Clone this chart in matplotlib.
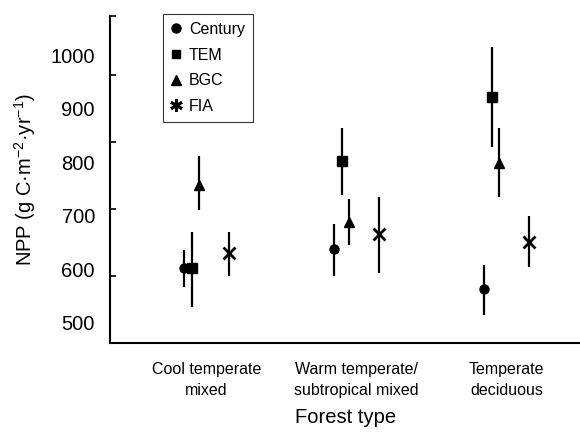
import matplotlib
matplotlib.use("Agg")
import matplotlib.pyplot as plt
from matplotlib.lines import Line2D
import numpy as np

plt.rcParams['font.family'] = ['Liberation Sans', 'DejaVu Sans']
plt.rcParams['mathtext.default'] = 'regular'

# forest types and models
forest_types = ["Cool temperate\nmixed", "Warm temperate/\nsubtropical mixed", "Temperate\ndeciduous"]
models = ["Century", "TEM", "BGC", "FIA"]

# NPP estimates (g C m-2 yr-1), one list per model, ordered by forest type
npp = {
    "Century": [603, 638, 563],
    "TEM":     [603, 802, 922],
    "BGC":     [757, 688, 798],
    "FIA":     [631, 666, 651],
}
# lower / upper ends of the vertical bars
npp_low = {
    "Century": [567, 588, 515],
    "TEM":     [530, 739, 828],
    "BGC":     [711, 645, 735],
    "FIA":     [588, 593, 604],
}
npp_high = {
    "Century": [636, 685, 608],
    "TEM":     [670, 864, 1015],
    "BGC":     [811, 731, 864],
    "FIA":     [670, 735, 700],
}

ytick_labels = [500, 600, 700, 800, 900, 1000]
ytick_marks = [587.7, 712.7, 837.7, 962.7]

# styling
offsets = {"Century": -0.16, "TEM": -0.11, "BGC": -0.06, "FIA": 0.14}
markers = {"Century": "o", "TEM": "s", "BGC": "^", "FIA": "x"}
msizes = {"Century": 6.5, "TEM": 7, "BGC": 7, "FIA": 9}

fig = plt.figure(figsize=(5.8, 4.33), dpi=100)
ax = fig.add_axes([0.19, 0.208, 0.81, 0.755])

x = np.arange(1, len(forest_types) + 1)
for m in models:
    vals = np.array(npp[m])
    lo = vals - np.array(npp_low[m])
    hi = np.array(npp_high[m]) - vals
    ax.errorbar(x + offsets[m], vals, yerr=[lo, hi], fmt=markers[m], color='black',
                ms=msizes[m], mew=2 if m == "FIA" else 1, elinewidth=1.6, capsize=0)

ax.set_xlim(0.347, 3.48)
ax.set_ylim(462.7, 1072.8)

for s in ["top", "right"]:
    ax.spines[s].set_visible(False)
ax.spines["left"].set_linewidth(1.5)
ax.spines["bottom"].set_linewidth(1.5)

# labels sit independently of the inward tick marks
ax.set_yticks(ytick_labels)
ax.set_yticklabels([str(v) for v in ytick_labels], fontsize=14.5)
ax.tick_params(axis='y', which='major', length=0, pad=11)
ax.set_yticks(ytick_marks + [1072.8], minor=True)
ax.tick_params(axis='y', which='minor', direction='in', length=4, width=1.2)

ax.set_xticks(x - 0.01)
ax.set_xticklabels(forest_types, fontsize=11.5, linespacing=1.45)
ax.tick_params(axis='x', length=0, pad=14)

ax.set_ylabel("NPP (g C·m$^{-2}$·yr$^{-1}$)", fontsize=14.5, labelpad=9)
ax.set_xlabel("Forest type", fontsize=14.5, labelpad=7)

handles = [
    Line2D([], [], marker="o", ls='none', color='black', ms=6.5),
    Line2D([], [], marker="s", ls='none', color='black', ms=6),
    Line2D([], [], marker="^", ls='none', color='black', ms=7),
    Line2D([], [], marker=(6, 2, 0), ls='none', color='black', ms=9, mew=2),
]
leg = ax.legend(handles, models, loc='upper left', bbox_to_anchor=(0.113, 1.006),
                borderaxespad=0, fontsize=11.5, frameon=True, fancybox=False,
                handlelength=0.6, handletextpad=0.5, labelspacing=0.66, borderpad=0.5)
leg.get_frame().set_edgecolor('black')
leg.get_frame().set_linewidth(0.8)

fig.savefig("out.png", dpi=100)
